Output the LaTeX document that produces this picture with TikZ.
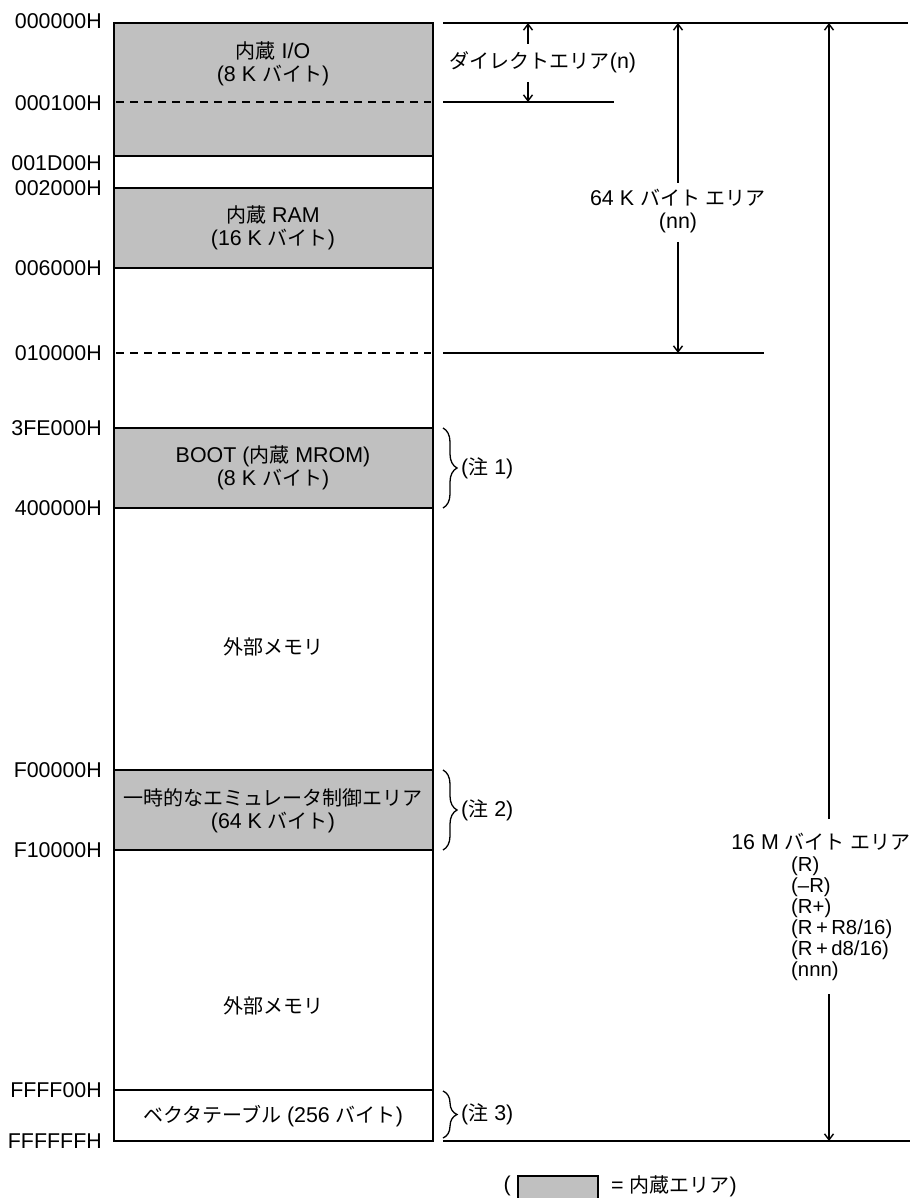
\documentclass[tikz,border=0pt]{standalone}
\usepackage{fontspec}
\setmainfont{Liberation Sans}[Scale=1.07]
\newfontfamily\jp{Noto Sans CJK JP}
\usetikzlibrary{arrows.meta,decorations.pathreplacing}
\definecolor{boxgray}{RGB}{192,192,192}
\newcommand{\J}[1]{{\jp #1}}
\begin{document}
\begin{tikzpicture}[x=1pt,y=-1pt,
  every node/.style={font=\fontsize{20}{23}\selectfont, inner sep=0pt},
  box/.style={line width=1.4pt, draw=black},
  gfill/.style={fill=boxgray},
  addr/.style={anchor=east},
  dashline/.style={line width=1.2pt, dash pattern=on 8pt off 6pt},
  refline/.style={line width=1.4pt},
  dimarrow/.style={line width=1.4pt, -{Straight Barb[length=6pt,width=9pt]}},
  brc/.style={line width=1.3pt, decorate, decoration={brace, amplitude=14pt}},
  lbl/.style={align=center}
]
\useasboundingbox (0,0) rectangle (917,1198);
\clip (0,0) rectangle (917,1198);

% gray regions
\fill[gfill] (114,23) rectangle (433,156);
\fill[gfill] (114,188) rectangle (433,268);
\fill[gfill] (114,428) rectangle (433,508);
\fill[gfill] (114,770) rectangle (433,850);

% outer box and separators
\draw[box] (114,23) rectangle (433,1141);
\draw[box] (114,156) -- (433,156);
\draw[box] (114,188) -- (433,188);
\draw[box] (114,268) -- (433,268);
\draw[box] (114,428) -- (433,428);
\draw[box] (114,508) -- (433,508);
\draw[box] (114,770) -- (433,770);
\draw[box] (114,850) -- (433,850);
\draw[box] (114,1090) -- (433,1090);
\draw[dashline] (116,102) -- (431,102);
\draw[dashline] (116,353) -- (431,353);

% address labels
\node[addr] (a0) at (102,21) {000000H};
\node[addr] (a1) at (102,103) {000100H};
\node[addr] (a2) at (102,163) {001D00H};
\node[addr] (a3) at (102,188) {002000H};
\node[addr] (a4) at (102,268) {006000H};
\node[addr] (a5) at (102,353) {010000H};
\node[addr] (a6) at (102,428) {3FE000H};
\node[addr] (a7) at (102,508) {400000H};
\node[addr] (a8) at (102,770) {F00000H};
\node[addr] (a9) at (102,850) {F10000H};
\node[addr] (a10) at (102,1090) {FFFF00H};
\node[addr] (a11) at (102,1141) {FFFFFFH};

% region texts
\node[lbl] (tio) at (273,64) {\J{内蔵} I/O\\(8 K \J{バイト})};
\node[lbl] (tram) at (273,228) {\J{内蔵} RAM\\(16 K \J{バイト})};
\node[lbl] (tboot) at (273,468) {BOOT (\J{内蔵} MROM)\\(8 K \J{バイト})};
\node (text1) at (273,647) {\J{外部メモリ}};
\node[lbl] (temu) at (273,811) {\J{一時的なエミュレータ制御エリア}\\(64 K \J{バイト})};
\node (text2) at (273,1006) {\J{外部メモリ}};
\node (tvec) at (273,1116) {\J{ベクタテーブル} (256 \J{バイト})};

% reference lines on the right
\coordinate (r0a) at (443,23);  \coordinate (r0b) at (908,23);
\coordinate (r1a) at (443,102); \coordinate (r1b) at (614,102);
\coordinate (r2a) at (443,353); \coordinate (r2b) at (764,353);
\coordinate (r3a) at (443,1141); \coordinate (r3b) at (910,1141);
\draw[refline] (r0a) -- (r0b);
\draw[refline] (r1a) -- (r1b);
\draw[refline] (r2a) -- (r2b);
\draw[refline] (r3a) -- (r3b);

% direct area
\node (dn) at (543,62) {\J{ダイレクトエリア}(n)};
\coordinate (dtop) at (528,23); \coordinate (dbot) at (528,102);
\coordinate (du) at (528,44); \coordinate (dd) at (528,82);
\draw[dimarrow] (du) -- (dtop);
\draw[dimarrow] (dd) -- (dbot);

% 64K area
\node[lbl] (k64) at (678,211) {64 K \J{バイト} \J{エリア}\\(nn)};
\coordinate (ktop) at (678,23); \coordinate (kbot) at (678,353);
\coordinate (ku) at (678,183); \coordinate (kd) at (678,242);
\draw[dimarrow] (ku) -- (ktop);
\draw[dimarrow] (kd) -- (kbot);

% 16M area
\node (m16) at (821,842) {16 M \J{バイト} \J{エリア}};
\node[anchor=north west, align=left, font=\fontsize{19}{21}\selectfont] (mlist) at (791,857)
  {(R)\\(–R)\\(R+)\\(R\,+\,R8/16)\\(R\,+\,d8/16)\\(nnn)};
\coordinate (mtop) at (829,23); \coordinate (mbot) at (829,1141);
\coordinate (mu) at (829,819); \coordinate (md) at (829,994);
\draw[dimarrow] (mu) -- (mtop);
\draw[dimarrow] (md) -- (mbot);

% braces and notes
\draw[brc] (443,428) -- (443,508);
\node[anchor=west] (n1) at (461,468) {(\J{注} 1)};
\draw[brc] (443,770) -- (443,850);
\node[anchor=west] (n2) at (461,810) {(\J{注} 2)};
\draw[brc] (443,1091) -- (443,1138);
\node[anchor=west] (n3) at (461,1114) {(\J{注} 3)};

% legend
\node[anchor=east] (lp) at (511,1186) {(};
\path[gfill, box] (518,1176) rectangle (598,1215);
\node[anchor=west] (leq) at (611,1186) {= \J{内蔵エリア})};
\end{tikzpicture}
\end{document}
